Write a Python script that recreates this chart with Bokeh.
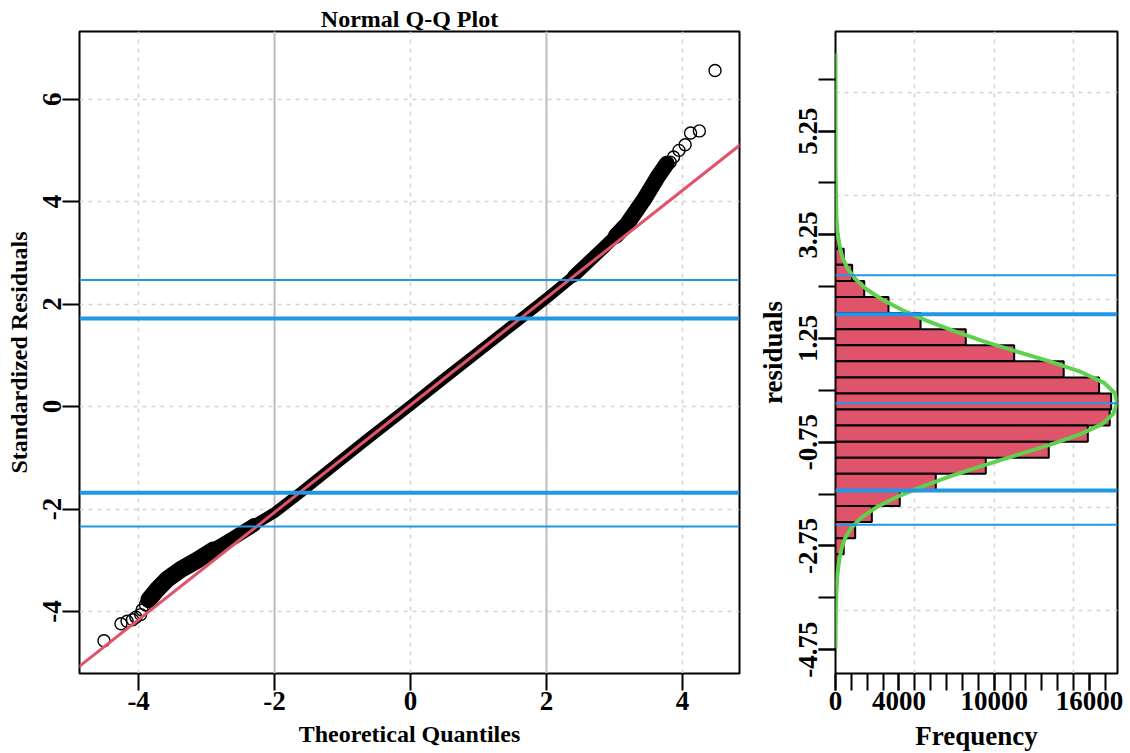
from bokeh.plotting import figure
from bokeh.layouts import row
from bokeh.models import Range1d, FixedTicker, Span, Slope
from bokeh.embed import file_html
from bokeh.resources import INLINE

# ---------------- Q-Q panel data ----------------
band_theoretical = [-3.85, -3.72, -3.58, -3.38, -3.14, -2.90, -2.60, -2.30, -2.00, -1.60,
                    -1.13, -0.64, 0.00, 0.50, 1.00, 1.50, 2.00, 2.40, 2.84, 3.02,
                    3.19, 3.43, 3.63, 3.77]
band_sample = [-3.77, -3.56, -3.37, -3.18, -3.00, -2.80, -2.56, -2.31, -2.07, -1.66,
               -1.16, -0.64, 0.02, 0.55, 1.07, 1.59, 2.11, 2.55, 3.10, 3.33,
               3.57, 4.03, 4.47, 4.74]
tail_theoretical = [-4.51, -4.26, -4.17, -4.09, -4.04, -3.97, -3.95, -3.90,
                    3.82, 3.87, 3.95, 4.04, 4.12, 4.25, 4.48]
tail_sample = [-4.57, -4.24, -4.19, -4.16, -4.11, -4.06, -3.97, -3.87,
               4.77, 4.87, 5.00, 5.11, 5.34, 5.38, 6.56]
qq_line_intercept = 0.03
qq_line_slope = 1.047
qq_x_ticks = [-4, -2, 0, 2, 4]
qq_y_ticks = [-4, -2, 0, 2, 4, 6]
qq_grey_v = [-2, 2]
qq_x_limits = [-4.87, 4.84]
qq_y_limits = [-5.21, 7.32]
cut_thin = [2.47, -2.34]
cut_thick = [1.72, -1.68]

# ---------------- histogram panel data ----------------
bin_edges = [3.60, 3.29, 2.98, 2.67, 2.36, 2.05, 1.74, 1.43, 1.12, 0.81, 0.50, 0.19,
             -0.12, -0.43, -0.74, -1.05, -1.36, -1.67, -1.98, -2.29, -2.60, -2.91,
             -3.22, -3.53]
bin_counts = [60, 170, 520, 1050, 1810, 3340, 5360, 8210, 11260, 14380, 16610,
              17370, 17280, 15900, 13440, 9470, 6320, 4050, 2290, 1240, 520, 210, 70]
dens_resid = [6.75, 4.5, 3.6, 3.3, 3.0, 2.8, 2.6, 2.4, 2.2, 2.0, 1.8, 1.6, 1.4, 1.2,
              1.0, 0.8, 0.6, 0.4, 0.2, 0.0, -0.2, -0.4, -0.6, -0.8, -1.0, -1.2, -1.4,
              -1.6, -1.8, -2.0, -2.2, -2.4, -2.6, -2.8, -3.0, -3.3, -3.6, -4.0, -4.72]
dens_freq = [0, 5, 60, 120, 280, 450, 760, 1250, 1950, 2950, 4200, 5700, 7400, 9300,
             11400, 13600, 15500, 16900, 17600, 17750, 17500, 16800, 15400, 13500,
             11400, 9300, 7300, 5500, 3900, 2600, 1650, 1000, 600, 380, 250, 120, 60,
             20, 0]
hist_y_ticks = [-4.75, -2.75, -0.75, 1.25, 3.25, 5.25]
hist_y_minor = [-4.75, -3.75, -2.75, -1.75, -0.75, 0.25, 1.25, 2.25, 3.25, 4.25, 5.25, 6.25]
hist_x_ticks = [0, 4000, 10000, 16000]
hist_x_minor = [0, 1000, 2000, 3000, 4000, 5000, 6000, 7000, 8000, 9000, 10000, 11000,
                12000, 13000, 14000, 15000, 16000, 17000]
hist_x_grid = [5000, 10000, 15000]
hist_y_grid = [-4, -2, 0, 2, 4, 6]
hist_x_limits = [0, 17770]
hist_y_limits = [-5.21, 7.17]
hist_mean_line = [0.0]

RED = "#DF536B"
BLUE = "#2297E6"
GREEN = "#61D04F"
FONT = "Liberation Serif"


def style(p, label_size):
    p.outline_line_color = "black"
    p.outline_line_width = 2
    p.background_fill_color = "white"
    p.border_fill_color = "white"
    for ax in (p.xaxis[0], p.yaxis[0]):
        ax.axis_line_color = None
        ax.major_tick_out = 17
        ax.major_tick_in = 0
        ax.major_tick_line_width = 2
        ax.major_tick_line_color = "black"
        ax.minor_tick_out = 17
        ax.minor_tick_in = 0
        ax.minor_tick_line_width = 2
        ax.minor_tick_line_color = "black"
        ax.major_label_text_font = FONT
        ax.major_label_text_font_style = "bold"
        ax.major_label_text_font_size = "27px"
        ax.major_label_text_color = "black"
        ax.axis_label_text_font = FONT
        ax.axis_label_text_font_style = "bold"
        ax.axis_label_text_font_size = label_size
        ax.axis_label_text_color = "black"
    p.yaxis[0].major_label_orientation = "vertical"
    p.yaxis[0].major_label_standoff = 1
    p.yaxis[0].axis_label_standoff = 9
    p.xaxis[0].major_label_standoff = 1
    p.xaxis[0].axis_label_standoff = 8
    for g in (p.xgrid[0], p.ygrid[0]):
        g.grid_line_color = "#D3D3D3"
        g.grid_line_dash = "4 5"
        g.grid_line_width = 1.5


def overrides(ticks):
    return {t: str(t) for t in ticks}


# ---------------- left: Normal Q-Q plot ----------------
p1 = figure(width=752, height=753, output_backend="svg", toolbar_location=None,
            x_range=Range1d(*qq_x_limits), y_range=Range1d(*qq_y_limits),
            min_border_left=79, min_border_right=13, min_border_top=31, min_border_bottom=80,
            x_axis_label="Theoretical Quantiles", y_axis_label="Standardized Residuals",
            title="Normal Q-Q Plot")
style(p1, "24px")
p1.title.align = "center"
p1.title.text_font = FONT
p1.title.text_font_style = "bold"
p1.title.text_font_size = "24px"
p1.title.text_color = "black"
p1.title.standoff = 0
p1.xaxis[0].ticker = FixedTicker(ticks=qq_x_ticks)
p1.yaxis[0].ticker = FixedTicker(ticks=qq_y_ticks)
p1.xaxis[0].major_label_overrides = overrides(qq_x_ticks)
p1.yaxis[0].major_label_overrides = overrides(qq_y_ticks)
p1.xgrid[0].ticker = FixedTicker(ticks=qq_x_ticks)
p1.ygrid[0].ticker = FixedTicker(ticks=qq_y_ticks)

for v in qq_grey_v:
    p1.add_layout(Span(location=v, dimension="height", line_color="#BEBEBE",
                       line_width=2, level="underlay"))

# dense band of overlapping points: thinner in the middle, wider in the tails
p1.line(band_theoretical, band_sample, line_color="black", line_width=11,
        line_cap="round", line_join="round")
for lo, hi, w in [(-2.3, 2.4, 14), (-2.9, 3.02, 17)]:
    lt = [t for t in band_theoretical if t <= lo]
    ls = [s for t, s in zip(band_theoretical, band_sample) if t <= lo]
    ut = [t for t in band_theoretical if t >= hi]
    us = [s for t, s in zip(band_theoretical, band_sample) if t >= hi]
    p1.line(lt, ls, line_color="black", line_width=w, line_cap="round", line_join="round")
    p1.line(ut, us, line_color="black", line_width=w - 1, line_cap="round", line_join="round")
p1.scatter(tail_theoretical, tail_sample, marker="circle", size=12,
           fill_color=None, line_color="black", line_width=1.4)
p1.add_layout(Slope(gradient=qq_line_slope, y_intercept=qq_line_intercept,
                    line_color=RED, line_width=3))
for v in cut_thin:
    p1.add_layout(Span(location=v, dimension="width", line_color=BLUE, line_width=2))
for v in cut_thick:
    p1.add_layout(Span(location=v, dimension="width", line_color=BLUE, line_width=4))

# ---------------- right: histogram of residuals ----------------
p2 = figure(width=378, height=753, output_backend="svg", toolbar_location=None,
            x_range=Range1d(*hist_x_limits), y_range=Range1d(*hist_y_limits),
            min_border_left=83, min_border_right=13, min_border_top=31, min_border_bottom=80,
            x_axis_label="Frequency", y_axis_label="residuals")
style(p2, "27px")
p2.xaxis[0].ticker = FixedTicker(ticks=hist_x_ticks, minor_ticks=hist_x_minor)
p2.yaxis[0].ticker = FixedTicker(ticks=hist_y_ticks, minor_ticks=hist_y_minor)
p2.xaxis[0].major_label_overrides = overrides(hist_x_ticks)
p2.yaxis[0].major_label_overrides = overrides(hist_y_ticks)
p2.xgrid[0].ticker = FixedTicker(ticks=hist_x_grid)
p2.ygrid[0].ticker = FixedTicker(ticks=hist_y_grid)

centers = [(bin_edges[i] + bin_edges[i + 1]) / 2 for i in range(len(bin_counts))]
heights = [abs(bin_edges[i] - bin_edges[i + 1]) for i in range(len(bin_counts))]
p2.hbar(y=centers, height=heights, left=0, right=bin_counts,
        fill_color=RED, line_color="black", line_width=2)
for v in cut_thin + hist_mean_line:
    p2.add_layout(Span(location=v, dimension="width", line_color=BLUE, line_width=2))
for v in cut_thick:
    p2.add_layout(Span(location=v, dimension="width", line_color=BLUE, line_width=4))
p2.line(dens_freq, dens_resid, line_color=GREEN, line_width=4, line_join="round")

layout = row(p1, p2)
open("out.html", "w").write(file_html(layout, INLINE))
